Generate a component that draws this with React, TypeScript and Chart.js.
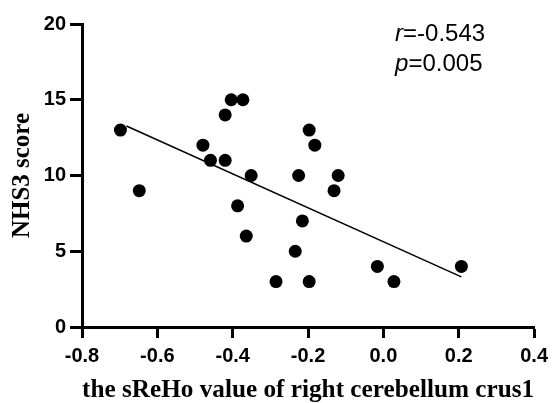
import React, { useEffect, useRef } from "react";
import { Chart, registerables } from "chart.js";

Chart.register(...registerables);

const xValues = [
  -0.698, -0.648, -0.479, -0.459, -0.42, -0.42, -0.404, -0.373, -0.351,
  -0.197, -0.182, -0.225, -0.12, -0.131, -0.387, -0.364, -0.285, -0.215,
  -0.234, -0.197, -0.016, 0.028, 0.207,
];
const yValues = [
  13, 9, 12, 11, 11, 14, 15, 15, 10,
  13, 12, 10, 10, 9, 8, 6, 3, 7,
  5, 3, 4, 3, 4,
];
const fitX = [-0.682, 0.207];
const fitY = [13.27, 3.31];
const xTicks = [-0.8, -0.6, -0.4, -0.2, 0.0, 0.2, 0.4];
const yTicks = [0, 5, 10, 15, 20];
const statR = "-0.543";
const statP = "0.005";
const xTitle = "the sReHo value of right cerebellum crus1";
const yTitle = "NHS3 score";

const annotationPlugin = {
  id: "statsText",
  afterDraw(chart: any) {
    const { ctx } = chart;
    const xs = chart.scales.x;
    const ys = chart.scales.y;
    const x0 = xs.getPixelForValue(0.031);
    const y1 = ys.getPixelForValue(18.85);
    const lines = [
      ["r", "=" + statR],
      ["p", "=" + statP],
    ];
    ctx.save();
    ctx.fillStyle = "#000";
    ctx.textBaseline = "alphabetic";
    ctx.textAlign = "left";
    lines.forEach((ln, i) => {
      const y = y1 + i * 29.5;
      ctx.font = 'italic 24px "Liberation Sans", Arial, sans-serif';
      ctx.fillText(ln[0], x0, y);
      const w = ctx.measureText(ln[0]).width;
      ctx.font = '24px "Liberation Sans", Arial, sans-serif';
      ctx.fillText(ln[1], x0 + w, y);
    });
    ctx.restore();
  },
};

export default function App() {
  const ref = useRef<HTMLCanvasElement | null>(null);
  useEffect(() => {
    if (!ref.current) return;
    const points = xValues.map((x, i) => ({ x, y: yValues[i] }));
    const fit = fitX.map((x, i) => ({ x, y: fitY[i] }));
    const tickFont = { family: '"Liberation Sans", Arial, sans-serif', size: 20, weight: "bold" as const };
    const xTitleFont = { family: '"Liberation Serif", "Times New Roman", serif', size: 26, weight: "bold" as const, lineHeight: 1 };
    const yTitleFont = { family: '"Liberation Serif", "Times New Roman", serif', size: 25, weight: "bold" as const, lineHeight: 1 };
    const chart = new Chart(ref.current, {
      type: "scatter",
      data: {
        datasets: [
          {
            data: points,
            backgroundColor: "#000",
            borderColor: "#000",
            borderWidth: 0,
            pointRadius: 6.5,
            pointHoverRadius: 6.5,
          },
          {
            data: fit,
            showLine: true,
            borderColor: "#000",
            borderWidth: 1.5,
            pointRadius: 0,
            pointHoverRadius: 0,
          } as any,
        ],
      },
      options: {
        animation: false,
        responsive: false,
        events: [],
        layout: { padding: { top: 24, right: 18, left: 0, bottom: 0 } },
        plugins: { legend: { display: false }, tooltip: { enabled: false } },
        scales: {
          x: {
            type: "linear",
            min: -0.8,
            max: 0.4,
            afterFit: (s: any) => { s.height = 76; },
            afterBuildTicks: (s: any) => { s.ticks = xTicks.map((v) => ({ value: v })); },
            ticks: {
              color: "#000",
              font: tickFont,
              padding: 6,
              maxRotation: 0,
              callback: (v: any) => Number(v).toFixed(1),
            },
            grid: { drawOnChartArea: false, drawTicks: true, tickLength: 11, tickWidth: 3, tickColor: "#000" },
            border: { display: true, color: "#000", width: 3 },
            title: { display: true, text: xTitle, color: "#000", font: xTitleFont, padding: { top: 0, bottom: 0 } },
          },
          y: {
            type: "linear",
            min: 0,
            max: 20,
            afterFit: (s: any) => { s.width = 82; },
            afterBuildTicks: (s: any) => { s.ticks = yTicks.map((v) => ({ value: v })); },
            ticks: { color: "#000", font: tickFont, padding: 4, callback: (v: any) => String(v) },
            grid: { drawOnChartArea: false, drawTicks: true, tickLength: 12, tickWidth: 3, tickColor: "#000" },
            border: { display: true, color: "#000", width: 3 },
            title: { display: true, text: yTitle, color: "#000", font: yTitleFont, padding: { top: 10, bottom: 0 } },
          },
        },
      },
      plugins: [annotationPlugin],
    });
    return () => chart.destroy();
  }, []);
  return (
    <div style={{ position: "fixed", left: 0, top: 0, width: 554, height: 403, background: "#fff" }}>
      <canvas ref={ref} width={554} height={403} style={{ width: 554, height: 403, display: "block" }} />
    </div>
  );
}
